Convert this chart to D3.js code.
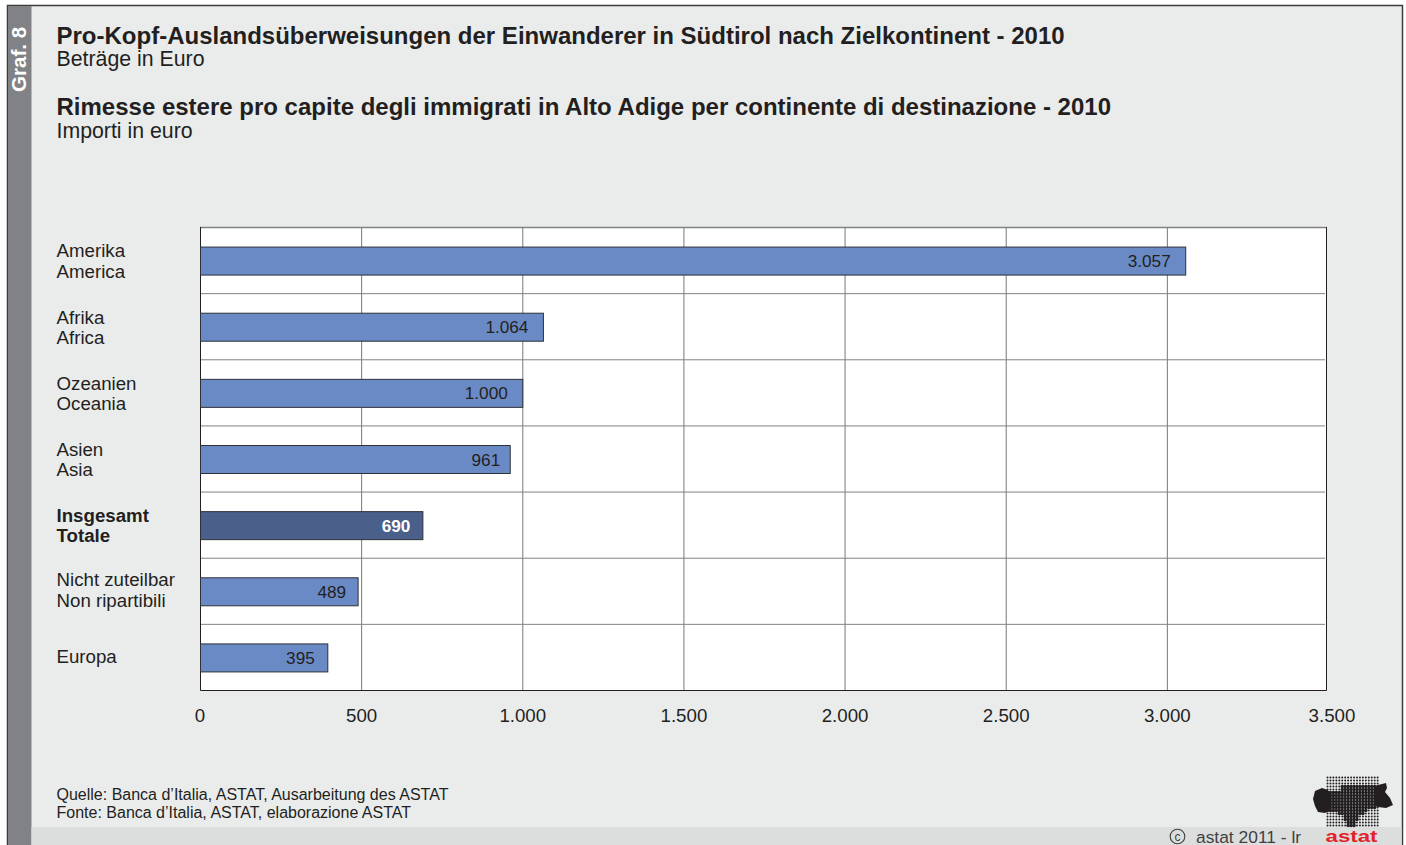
<!DOCTYPE html>
<html><head><meta charset="utf-8">
<script src="https://cdn.jsdelivr.net/npm/d3@7"></script>
<style>html,body{margin:0;padding:0;background:#fff}svg{display:block}text{font-family:"Liberation Sans",Arial,sans-serif;fill:#231f20}</style>
</head><body><svg id="c" width="1406" height="845"></svg>
<script>
const labelsDe=["Amerika","Afrika","Ozeanien","Asien","Insgesamt","Nicht zuteilbar","Europa"];
const labelsIt=["America","Africa","Oceania","Asia","Totale","Non ripartibili",""];
const values=[3057,1064,1000,961,690,489,395];
const valueLabels=["3.057","1.064","1.000","961","690","489","395"];
const ticks=[0,500,1000,1500,2000,2500,3000,3500];
const tickLabels=["0","500","1.000","1.500","2.000","2.500","3.000","3.500"];
const titles=[
 ["Pro-Kopf-Auslandsüberweisungen der Einwanderer in Südtirol nach Zielkontinent - 2010",44,"bold",24],
 ["Beträge in Euro",66,"normal",21.3],
 ["Rimesse estere pro capite degli immigrati in Alto Adige per continente di destinazione - 2010",115,"bold",24],
 ["Importi in euro",138,"normal",21.3]];
const sources=["Quelle: Banca d’Italia, ASTAT, Ausarbeitung des ASTAT","Fonte: Banca d’Italia, ASTAT, elaborazione ASTAT"];

const svg=d3.select("#c");
svg.append("rect").attr("x",7.5).attr("y",5.5).attr("width",1395).attr("height",845).attr("fill","#eaecec").attr("stroke","#3c3c3c").attr("stroke-width",1.5);
svg.append("rect").attr("x",8).attr("y",6).attr("width",23.5).attr("height",839).attr("fill","#808285");
svg.append("rect").attr("x",31.5).attr("y",827).attr("width",1370).attr("height",18).attr("fill","#dcdede");
svg.append("text").attr("transform","translate(26,92) rotate(-90)").attr("font-size",20.6).attr("font-weight","bold").style("fill","#fff").text("Graf. 8");
svg.selectAll(".t").data(titles).join("text").attr("class","t").attr("x",56.5).attr("y",d=>d[1]).attr("font-weight",d=>d[2]).attr("font-size",d=>d[3]).text(d=>d[0]);

const x=d3.scaleLinear().domain([0,3500]).range([200.5,1328.5]);
const y=d3.scaleBand().domain(labelsDe).range([227.5,690.5]);
const h=28;
svg.append("rect").attr("x",200).attr("y",227).attr("width",1127).attr("height",463.5).attr("fill","#fff");
svg.append("g").selectAll("line").data(ticks.slice(1,-1)).join("line")
 .attr("x1",d=>x(d)).attr("x2",d=>x(d)).attr("y1",227).attr("y2",690).attr("stroke","#77787b").attr("stroke-width",1);
svg.append("g").selectAll("line").data(labelsDe.slice(1)).join("line")
 .attr("x1",200).attr("x2",1325).attr("y1",d=>y(d)).attr("y2",d=>y(d)).attr("stroke","#808285").attr("stroke-width",1);
svg.append("line").attr("x1",200).attr("x2",1327).attr("y1",227.5).attr("y2",227.5).attr("stroke","#808285").attr("stroke-width",1.3);
svg.append("path").attr("d","M200.5,227V690.5H1326.5V227").attr("fill","none").attr("stroke","#231f20").attr("stroke-width",1);

svg.append("g").selectAll("rect").data(values).join("rect")
 .attr("x",x(0)).attr("y",(d,i)=>y(labelsDe[i])+y.bandwidth()/2-h/2+0.5)
 .attr("width",d=>x(d)-x(0)).attr("height",h)
 .attr("fill",(d,i)=>i==4?"#4a5f8a":"#6a8ac6").attr("stroke","#2e3136").attr("stroke-width",1);
svg.append("g").selectAll("text").data(values).join("text")
 .attr("x",d=>x(d)-(d==3057?15:d==690?12.5:d==489?12:d==395?13:d==961?10:15))
 .attr("y",(d,i)=>y(labelsDe[i])+y.bandwidth()/2+6.5)
 .attr("text-anchor","end").attr("font-size",17.2)
 .attr("font-weight",(d,i)=>i==4?"bold":"normal")
 .style("fill",(d,i)=>i==4?"#fff":"#231f20").text((d,i)=>valueLabels[i]);

labelsDe.forEach((l,i)=>{
 const c=y(l)+y.bandwidth()/2+(i==5?-1.5:0.3), bold=i==4?"bold":"normal";
 if(labelsIt[i]){
  svg.append("text").attr("x",56.5).attr("y",c-3.5).attr("font-size",18.7).attr("font-weight",bold).text(l);
  svg.append("text").attr("x",56.5).attr("y",c+17).attr("font-size",18.7).attr("font-weight",bold).text(labelsIt[i]);
 } else svg.append("text").attr("x",56.5).attr("y",c+5.5).attr("font-size",18.7).text(l);
});
svg.append("g").selectAll("text").data(ticks).join("text").attr("x",d=>x(d)-(d==0?0.5:0)+(d==3500?3.5:0)).attr("y",722).attr("text-anchor","middle").attr("font-size",18.7).text((d,i)=>tickLabels[i]);
svg.selectAll(".s").data(sources).join("text").attr("class","s").attr("x",56.5).attr("y",(d,i)=>800+i*18).attr("font-size",16).text(d=>d);

svg.append("circle").attr("cx",1177.5).attr("cy",836.5).attr("r",7.3).attr("fill","none").attr("stroke","#414042").attr("stroke-width",1.1);
svg.append("text").attr("x",1177.5).attr("y",840.5).attr("text-anchor","middle").attr("font-size",12).style("fill","#414042").text("c");
svg.append("text").attr("x",1196).attr("y",842.5).attr("font-size",17.4).style("fill","#414042").text("astat 2011 - lr");

const logo=svg.append("g");
const outline=[[1327,790],[1338,792],[1342,786],[1377,784],[1377,808],[1368,810],[1358,817],[1355,826],[1346,826],[1344,816],[1336,812],[1327,812]];
const dots=[];
for(let r=0;r<17;r++)for(let c=0;c<18;c++)dots.push([1327.5+c*2.95,777.5+r*3.0]);
logo.selectAll("circle").data(dots).join("circle").attr("cx",d=>d[0]).attr("cy",d=>d[1])
 .attr("r",d=>d3.polygonContains(outline,d)?1.75:1.0).attr("fill","#231f20");
logo.append("path").attr("fill","#231f20").attr("d","M1313,799 L1315,791 L1322,788 L1328,790 L1331,795 L1331,810 L1325,813 L1318,812 L1315,806Z");
logo.append("path").attr("fill","#231f20").attr("d","M1374,786 L1386,783 L1387,788 L1385,792 L1390,798 L1393,805 L1386,808 L1378,807 L1374,806Z");
svg.append("text").attr("x",1325.5).attr("y",841.5).attr("font-size",16.5).attr("font-weight","bold").style("fill","#e2232a").attr("textLength",52).attr("lengthAdjust","spacingAndGlyphs").text("astat");
</script></body></html>
